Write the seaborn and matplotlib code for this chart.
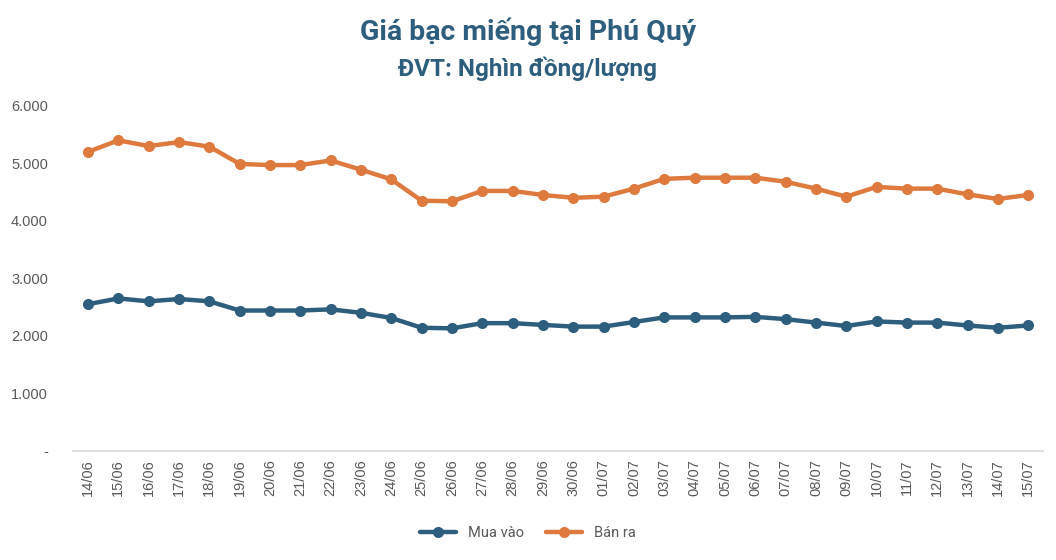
import pandas as pd
import matplotlib.pyplot as plt
import matplotlib.ticker as mticker
import seaborn as sns

# ================================
# 1. Data
# ================================
dates = ["14/06", "15/06", "16/06", "17/06", "18/06", "19/06", "20/06", "21/06",
         "22/06", "23/06", "24/06", "25/06", "26/06", "27/06", "28/06", "29/06",
         "30/06", "01/07", "02/07", "03/07", "04/07", "05/07", "06/07", "07/07",
         "08/07", "09/07", "10/07", "11/07", "12/07", "13/07", "14/07", "15/07"]

mua_vao = [2550, 2650, 2600, 2640, 2600, 2440, 2440, 2440, 2460, 2400, 2310, 2140,
           2130, 2220, 2220, 2190, 2160, 2160, 2240, 2320, 2320, 2320, 2330, 2290,
           2230, 2170, 2250, 2230, 2230, 2180, 2140, 2180]

ban_ra = [5200, 5400, 5300, 5370, 5290, 4990, 4970, 4970, 5050, 4890, 4720, 4350,
          4340, 4520, 4520, 4450, 4400, 4420, 4560, 4730, 4750, 4750, 4750, 4680,
          4560, 4420, 4590, 4560, 4560, 4460, 4380, 4450]

series_names = ["Mua vào", "Bán ra"]
colors = ["#2E5E7E", "#DF7A3E"]

df = pd.DataFrame({
    "Ngày": dates * 2,
    "Giá": mua_vao + ban_ra,
    "Loại": [series_names[0]] * len(dates) + [series_names[1]] * len(dates),
})

# ================================
# 2. Plot
# ================================
sns.set_style("white")
plt.rcParams['font.family'] = ['Roboto', 'DejaVu Sans']

fig = plt.figure(figsize=(10.56, 5.6), dpi=100)
ax = fig.add_axes([0.069, 0.195, 0.919, 0.616])

sns.lineplot(data=df, x="Ngày", y="Giá", hue="Loại", palette=colors,
             marker="o", markersize=8, markeredgewidth=0, linewidth=3.2,
             sort=False, ax=ax)

ax.set_xlim(-0.5, len(dates) - 0.5)
ax.set_ylim(0, 6000)
ax.set_xlabel("")
ax.set_ylabel("")

# y axis: dot thousands separator, zero shown as "-"
def fmt_y(v, pos):
    if v == 0:
        return "-"
    return f"{int(v):,}".replace(",", ".")

tick_font = ['Liberation Sans', 'DejaVu Sans']

ax.yaxis.set_major_locator(mticker.MultipleLocator(1000))
ax.yaxis.set_major_formatter(mticker.FuncFormatter(fmt_y))
ax.tick_params(axis="y", length=0, labelsize=10.5, labelcolor="#595959", pad=18)

# x axis: labels at categories, tick marks between them
ax.set_xticks(range(len(dates)))
ax.set_xticklabels(dates, rotation=90)
ax.xaxis.set_minor_locator(mticker.FixedLocator([i - 0.5 for i in range(len(dates) + 1)]))
ax.tick_params(axis="x", which="major", length=0, labelsize=10.5, labelcolor="#595959", pad=6)
ax.tick_params(axis="x", which="minor", length=5, width=1, color="#D9D9D9", direction="out")

for lbl in ax.get_xticklabels() + ax.get_yticklabels():
    lbl.set_family(tick_font)

for side in ["top", "right", "left"]:
    ax.spines[side].set_visible(False)
ax.spines["bottom"].set_color("#D9D9D9")
ax.spines["bottom"].set_linewidth(1.2)
ax.grid(False)

# legend under the chart
ax.legend(loc="center", bbox_to_anchor=(0.5, 0.048), bbox_transform=fig.transFigure,
          ncol=2, frameon=False, fontsize=10.5, labelcolor="#595959",
          handlelength=2.5, columnspacing=1.5)

# titles
fig.text(0.5, 0.943, "Giá bạc miếng tại Phú Quý", ha="center", va="center",
         fontsize=20.5, fontweight="bold", color="#2E5E7E")
fig.text(0.5, 0.877, "ĐVT: Nghìn đồng/lượng", ha="center", va="center",
         fontsize=17.5, fontweight="bold", color="#2E5E7E")

plt.savefig("out.png", dpi=100)
